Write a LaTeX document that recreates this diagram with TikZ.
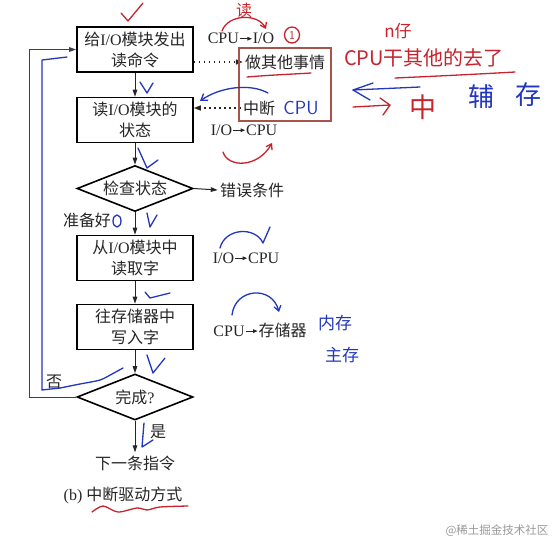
\documentclass[tikz,border=0pt]{standalone}
\usepackage{fontspec}
\setmainfont{Liberation Serif}
\newfontfamily\cjk{Noto Sans CJK SC}
\usetikzlibrary{arrows.meta,shapes.geometric}
\definecolor{hred}{RGB}{200,35,45}
\definecolor{hblue}{RGB}{35,55,190}
\definecolor{bbox}{RGB}{165,85,75}
\newcommand\zh[1]{{\cjk #1}}
\newcommand\rarr{\tikz[baseline=-5pt,x=1pt,y=1pt]{\path (0,0) rectangle (14,1);\draw[line width=0.8pt,-{Triangle[length=4.5pt,width=3.6pt]}](1,0)--(13,0);}}
\begin{document}
\begin{tikzpicture}[x=1pt,y=-1pt,
  every node/.style={text=black!85, font=\fontsize{16}{21}\selectfont},
  box/.style={draw=black, line width=1.6pt, minimum width=116pt, minimum height=45pt, align=center, inner sep=0pt},
  dia/.style={draw=black, line width=1.6pt, diamond, minimum width=116pt, minimum height=46pt, inner sep=0pt, aspect=2.5},
  flow/.style={line width=1pt, draw=black!85, -{Triangle[length=7pt,width=4.5pt]}},
  dotarrow/.style={line width=1.5pt, draw=black!85, dash pattern=on 1.5pt off 3.5pt, -{Triangle[length=7pt,width=5pt]}},
  lab/.style={inner sep=1pt},
  hr/.style={draw=hred, line width=1.3pt, line cap=round, line join=round},
  hb/.style={draw=hblue, line width=1.3pt, line cap=round, line join=round},
  hbtext/.style={text=hblue, inner sep=0pt},
  hrtext/.style={text=hred, inner sep=0pt},
]
\fill[white] (0,0) rectangle (552,542);
\useasboundingbox (0,0) rectangle (552,542);

% flowchart
\node[box] (b1) at (135,49.5) {\zh{给}I/O\zh{模块发出}\\\zh{读命令}};
\node[box] (b2) at (135,120) {\zh{读}I/O\zh{模块的}\\\zh{状态}};
\node[dia] (d1) at (135,188.5) {\zh{检查状态}};
\node[box] (b3) at (135,258) {\zh{从}I/O\zh{模块中}\\\zh{读取字}};
\node[box] (b4) at (135,327) {\zh{往存储器中}\\\zh{写入字}};
\node[dia] (d2) at (135,397) {\zh{完成}?};
\node[inner sep=3pt] (next) at (135,463) {\zh{下一条指令}};
\node[inner sep=0pt] (cap) at (123,495) {(b) \zh{中断驱动方式}};

\draw[flow] (b1) -- (b2);
\draw[flow] (b2) -- (d1);
\draw[flow] (d1) -- (b3);
\draw[flow] (b3) -- (b4);
\draw[flow] (b4) -- (d2);
\draw[flow] (d2) -- (next);

\node[inner sep=2pt] (err) at (252,190) {\zh{错误条件}};
\draw[flow] (d1.east) -- (err.west);

\node[lab] (ready) at (87,220) {\zh{准备好}};
\node[lab] (no) at (54,382) {\zh{否}};
\node[lab] (yes) at (158,432) {\zh{是}};
\draw[flow, draw=black!75] (d2.west) -- ++(-47,0) |- (b1.west);

% right side labels
\node[lab] (cpuio) at (241,38.5) {CPU\rarr I/O};
\node[inner sep=2pt] (other) at (285,62) {\zh{做其他事情}};
\node[inner sep=2pt] (intr) at (259,108) {\zh{中断}};
\node[lab] (iocpu1) at (244,130) {I/O\rarr CPU};
\node[lab] (iocpu2) at (246,258) {I/O\rarr CPU};
\node[lab] (cpumem) at (260,330) {CPU\rarr\zh{存储器}};
\draw[dotarrow] (b1.east |- other.west) -- (other.west);
\draw[dotarrow] (intr.west) -- (b2.east |- intr.west);

% annotation box
\draw[bbox, line width=1.3pt] (239,48) rectangle (331,121);

% handwritten red marks
\draw[hr] (121,13) -- (128,21) -- (143,3);
\node[hrtext, font=\cjk\fontsize{16}{16}\selectfont] (du) at (244,10) {读};
\draw[hr, -{Straight Barb[length=5pt,width=7pt]}] (222,31) .. controls (228,14) and (258,13) .. (266,29);
\draw[hr] (292,35) ellipse (7.5 and 8);
\node[hrtext, font=\sffamily\fontsize{12}{12}\selectfont] (one) at (292,35.5) {1};
\draw[hr] (247,77) .. controls (270,75) and (295,74) .. (311,73);
\draw[hr, -{Straight Barb[length=5pt,width=7pt]}] (223,152) .. controls (228,168) and (258,168) .. (272,143);
\node[hrtext, font=\cjk\fontsize{17}{17}\selectfont] (nz) at (398,31) {n仔};
\node[hrtext, font=\cjk\fontsize{20}{20}\selectfont] (cpugan) at (424,58) {CPU干其他的去了};
\draw[hr] (395,78) .. controls (440,76) and (480,74) .. (515,72);
\draw[hr] (353,107) -- (390,105);
\draw[hr] (380,98) -- (390,105) -- (383,115);
\node[hrtext, font=\cjk\fontsize{27}{27}\selectfont] (zhong) at (423,107) {中};
\draw[hr] plot[smooth] coordinates {(92,512) (103,506) (118,512) (137,508) (147,510) (160,507) (188,506)};

% handwritten blue marks
\node[hbtext, font=\sffamily\fontsize{19}{19}\selectfont] (cpuhw) at (301,108) {CPU};
\draw[hb, -{Straight Barb[length=6pt,width=8pt]}] (268,93) .. controls (250,83) and (220,87) .. (200,101);
\draw[hb] (420,87) -- (353,90);
\draw[hb] (373,83) -- (353,90) -- (370,100);
\node[hbtext, font=\cjk\fontsize{26}{26}\selectfont] (fu) at (481,97) {辅};
\node[hbtext, font=\cjk\fontsize{26}{26}\selectfont] (cun) at (528,95) {存};
\draw[hb] (67,57) -- (42,60) -- (42,390) -- (60,388);
\draw[hb] plot[smooth] coordinates {(60,388) (80,384) (100,380) (112,374) (123,368)};
\draw[hb] (140,82) -- (147,93) -- (153,83);
\draw[hb] (138,148) -- (147,168) -- (158,160);
\draw[hb] (147,213) -- (150,227) -- (157,215);
\draw[hb] (145,292) -- (150,298) -- (170,293);
\draw[hb] (147,355) -- (153,373) -- (165,358);
\draw[hb] (144,423) -- (142,447) -- (153,440);
\draw[hb] (117,221) ellipse (4 and 6);
\draw[hb] (220,248) .. controls (225,228) and (255,226) .. (263,243) -- (270,227);
\draw[hb, -{Straight Barb[length=5pt,width=7pt]}] (232,315) .. controls (235,288) and (272,285) .. (279,312);
\node[hbtext, font=\cjk\fontsize{17}{17}\selectfont] (neicun) at (335,323) {内存};
\node[hbtext, font=\cjk\fontsize{17}{17}\selectfont] (zhucun) at (342,355) {主存};

% watermark
\node[text=black!40, font=\cjk\fontsize{11.5}{12}\selectfont, inner sep=0pt] (wm) at (497,531) {@稀土掘金技术社区};
\end{tikzpicture}
\end{document}
